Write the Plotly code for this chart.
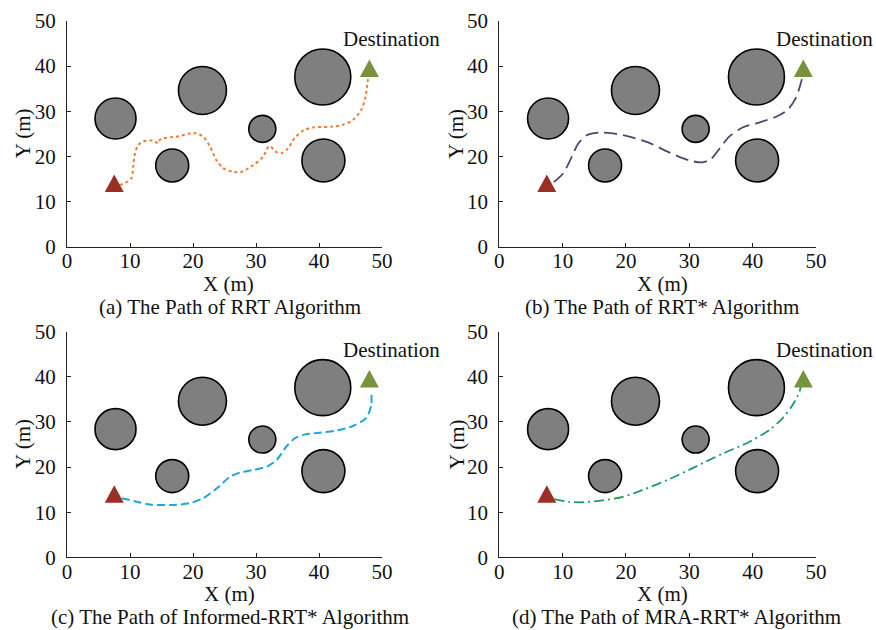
import plotly.graph_objects as go

# ---- scene data (metres) ----
obs_x = [7.7, 16.7, 21.5, 31.0, 40.6, 40.7]
obs_y = [28.4, 18.0, 34.6, 26.1, 37.6, 19.1]
obs_d = [41, 33, 48, 27, 56, 43]          # drawn diameter in pixels

start_xy = (7.5, 14.0)
goal_xy = (48.0, 39.5)

# RRT path
rrt_x = [8.4, 9.2, 10.25, 10.5, 10.8, 11.3, 12.1, 13.7, 14.5, 14.7, 15.3, 17.9, 19.5, 20.6,
         21.6, 22.7, 23.7, 24.8, 26.3, 27.5, 29.5, 31.1, 31.9, 32.2, 33.2, 34.0, 35.1,
         36.1, 37.5, 39.0, 42.2, 43.8, 45.4, 46.7, 47.4, 47.75, 48.0]
rrt_y = [13.7, 14.1, 15.2, 17.7, 20.7, 22.5, 23.3, 23.5, 22.9, 23.6, 24.0, 24.5, 25.1, 25.1,
         24.4, 22.2, 19.2, 17.4, 16.6, 16.5, 18.0, 19.9, 22.0, 22.3, 21.0, 20.7, 21.8,
         24.0, 25.7, 26.4, 26.6, 27.0, 28.1, 30.3, 33.2, 36.9, 38.3]

# RRT* path
rrts_x = [8.6, 10.1, 11.4, 12.5, 13.8, 15.8, 17.9, 20.5, 23.5, 26.8, 30.0, 32.1, 33.4,
          34.7, 36.3, 38.4, 41.0, 43.7, 45.5, 46.8, 47.6, 47.9]
rrts_y = [14.3, 16.3, 19.8, 22.9, 24.7, 25.3, 25.1, 24.4, 23.1, 20.9, 19.1, 18.7, 19.4,
          21.6, 24.4, 26.4, 27.5, 28.8, 30.3, 32.9, 36.2, 38.0]

# Informed-RRT* path
inf_x = [8.7, 10.6, 13.2, 16.9, 19.5, 21.6, 23.8, 25.9, 27.5, 29.6, 31.7, 33.3, 34.8,
         36.2, 37.8, 40.1, 42.8, 45.4, 47.5, 48.3, 48.3]
inf_y = [13.1, 12.5, 11.7, 11.6, 12.0, 13.1, 15.3, 17.9, 18.8, 19.35, 20.1, 21.6, 24.5,
         26.4, 27.25, 27.6, 28.1, 29.1, 30.9, 33.75, 36.7]

# MRA-RRT* path
mra_x = [8.7, 11.0, 13.2, 16.3, 19.5, 22.6, 26.8, 31.0, 35.3, 39.5, 42.6, 44.7, 46.3,
         47.4, 47.7]
mra_y = [12.9, 12.3, 12.2, 12.6, 13.4, 14.9, 17.3, 20.1, 23.0, 25.6, 28.2, 30.8, 33.75,
         36.7, 38.6]

captions = ["(a) The Path of RRT Algorithm",
            "(b) The Path of RRT* Algorithm",
            "(c) The Path of Informed-RRT* Algorithm",
            "(d) The Path of MRA-RRT* Algorithm"]

W, H = 876, 630
FONT = "Liberation Serif"
TXT = "#111111"


def px(v):
    return v / W


def py(v):
    return 1 - v / H


# panel boxes in pixels: (left, right, top, bottom)
boxes = [(67, 382, 21, 246.7), (499.3, 816, 21, 246.7),
         (67, 382, 331.7, 557.3), (499.3, 816, 331.7, 557.3)]
caption_cx = [230, 662, 230, 676]
xtitle_cx = [228.7, 662.7, 229, 662.7]
ytitle_cx = [22.5, 456, 22.5, 456]
dest_cx = [391.5, 824.3, 391.5, 824.3]

paths = [
    (rrt_x, rrt_y, dict(color="#ED7D31", width=2, dash="dot")),
    (rrts_x, rrts_y, dict(color="#4B4770", width=1.8, dash="13px,6px")),
    (inf_x, inf_y, dict(color="#1EA6DC", width=2, dash="8px,4px")),
    (mra_x, mra_y, dict(color="#1A9E5C", width=1.8, dash="10px,4px,2px,4px")),
]

fig = go.Figure()
annotations = []
shapes = []

for i, (box, (pxs, pys, line)) in enumerate(zip(boxes, paths)):
    n = "" if i == 0 else str(i + 1)
    xa, ya = "x" + n, "y" + n
    left, right, top, bottom = box

    fig.add_trace(go.Scatter(
        x=obs_x, y=obs_y, mode="markers", xaxis=xa, yaxis=ya, showlegend=False,
        hoverinfo="skip", cliponaxis=False,
        marker=dict(size=obs_d, color="#7F7F7F", opacity=1,
                    line=dict(color="#000000", width=1.6)),
    ))
    fig.add_trace(go.Scatter(
        x=pxs, y=pys, mode="lines", xaxis=xa, yaxis=ya, showlegend=False,
        line=dict(shape="spline", smoothing=0.8, **line),
    ))

    # start (red) and destination (green) triangles, fixed pixel size
    for (tx, ty), col in ((start_xy, "#9B2F26"), (goal_xy, "#77933C")):
        shapes.append(dict(
            type="path", xref=xa, yref=ya, xsizemode="pixel", ysizemode="pixel",
            xanchor=tx, yanchor=ty, path="M-9.5,-8.5 L9.5,-8.5 L0,9 Z",
            fillcolor=col, line=dict(width=0),
        ))

    annotations.append(dict(
        text="Destination", x=px(dest_cx[i]), y=py(top + 18), xref="paper", yref="paper",
        showarrow=False, xanchor="center", yanchor="middle",
        font=dict(family=FONT, size=21, color=TXT),
    ))
    annotations.append(dict(
        text="X (m)", x=px(xtitle_cx[i]), y=py(bottom + 37), xref="paper", yref="paper",
        showarrow=False, xanchor="center", yanchor="middle",
        font=dict(family=FONT, size=21, color=TXT),
    ))
    annotations.append(dict(
        text="Y (m)", x=px(ytitle_cx[i]), y=py((top + bottom) / 2), xref="paper", yref="paper",
        showarrow=False, xanchor="center", yanchor="middle", textangle=-90,
        font=dict(family=FONT, size=21, color=TXT),
    ))
    annotations.append(dict(
        text=captions[i], x=px(caption_cx[i]), y=py(bottom + 60), xref="paper", yref="paper",
        showarrow=False, xanchor="center", yanchor="middle",
        font=dict(family=FONT, size=21, color=TXT),
    ))

    axis_common = dict(
        range=[0, 50], dtick=10, tick0=0, showgrid=False, zeroline=False,
        showline=True, linecolor="#222222", linewidth=1.3,
        ticks="inside", ticklen=4, tickwidth=1, tickcolor="#222222",
        tickfont=dict(family=FONT, size=21, color=TXT), fixedrange=True,
        automargin=False,
    )
    fig.update_layout({
        "xaxis" + n: dict(domain=[px(left), px(right)], anchor=ya, ticklabelstandoff=-5,
                          **axis_common),
        "yaxis" + n: dict(domain=[py(bottom), py(top)], anchor=xa, ticklabelstandoff=6,
                          **axis_common),
    })

fig.update_layout(
    width=W, height=H, margin=dict(l=0, r=0, t=0, b=0, pad=0, autoexpand=False),
    plot_bgcolor="white", paper_bgcolor="white",
    annotations=annotations, shapes=shapes,
    font=dict(family=FONT),
)

fig.write_html("out.html")
